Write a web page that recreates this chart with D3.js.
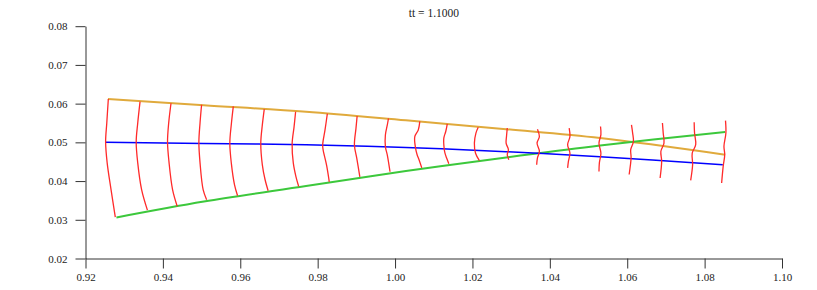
<!DOCTYPE html>
<html lang="en">
<head>
    <meta charset="UTF-8">
    <title>tt = 1.1000</title>
    <script src="https://d3js.org/d3.v7.min.js"></script>
    <style>
        body { margin: 0; background: #fff; }
        svg text { font-family: "Liberation Serif", "Times New Roman", "DejaVu Serif", serif; }
        .tick text { font-size: 11px; fill: #222; }
    </style>
</head>
<body>
    <svg width="817" height="290"></svg>
    <script>
        const title = 'tt = 1.1000';
        const xTicks = [0.92, 0.94, 0.96, 0.98, 1.00, 1.02, 1.04, 1.06, 1.08, 1.10];
        const yTicks = [0.02, 0.03, 0.04, 0.05, 0.06, 0.07, 0.08];

        // upper edge (orange), centre line (blue), lower edge (green)
        const upper = [[0.9258, 0.0612], [0.9506, 0.0596], [0.9770, 0.0579], [1.0028, 0.0557],
                       [1.0287, 0.0534], [1.0530, 0.0511], [1.0853, 0.0468]];
        const centre = [[0.9251, 0.0500], [0.9506, 0.0497], [0.9770, 0.0494], [1.0028, 0.0487],
                        [1.0287, 0.0476], [1.0530, 0.0463], [1.0847, 0.0442]];
        const lower = [[0.9280, 0.0306], [0.9506, 0.0347], [0.9770, 0.0387], [1.0028, 0.0426],
                       [1.0287, 0.0461], [1.0530, 0.0492], [1.0853, 0.0527]];

        // red cross-section profiles, one per station, top to bottom
        const profiles = [
            [[0.9259, 0.0612], [0.9255, 0.0550], [0.9252, 0.0501], [0.9256, 0.0447], [0.9266, 0.0378], [0.9277, 0.0307]],
            [[0.9341, 0.0605], [0.9335, 0.0550], [0.9331, 0.0501], [0.9335, 0.0447], [0.9345, 0.0378], [0.9360, 0.0325]],
            [[0.9421, 0.0601], [0.9415, 0.0550], [0.9412, 0.0501], [0.9416, 0.0447], [0.9425, 0.0378], [0.9437, 0.0335]],
            [[0.9500, 0.0597], [0.9496, 0.0550], [0.9493, 0.0500], [0.9496, 0.0447], [0.9504, 0.0378], [0.9513, 0.0352]],
            [[0.9582, 0.0593], [0.9577, 0.0548], [0.9573, 0.0498], [0.9577, 0.0445], [0.9585, 0.0391], [0.9593, 0.0362]],
            [[0.9662, 0.0586], [0.9657, 0.0545], [0.9653, 0.0498], [0.9657, 0.0442], [0.9664, 0.0404], [0.9672, 0.0375]],
            [[0.9743, 0.0579], [0.9739, 0.0540], [0.9734, 0.0496], [0.9737, 0.0447], [0.9744, 0.0411], [0.9751, 0.0386]],
            [[0.9825, 0.0574], [0.9819, 0.0532], [0.9813, 0.0494], [0.9814, 0.0481], [0.9823, 0.0441], [0.9830, 0.0398]],
            [[0.9902, 0.0568], [0.9899, 0.0536], [0.9895, 0.0493], [0.9901, 0.0459], [0.9909, 0.0411]],
            [[0.9983, 0.0562], [0.9980, 0.0545], [0.9975, 0.0519], [0.9975, 0.0489], [0.9980, 0.0467], [0.9987, 0.0424]],
            [[1.0064, 0.0554], [1.0060, 0.0532], [1.0051, 0.0515], [1.0053, 0.0485], [1.0057, 0.0468], [1.0062, 0.0455], [1.0069, 0.0434]],
            [[1.0135, 0.0548], [1.0131, 0.0528], [1.0126, 0.0511], [1.0127, 0.0483], [1.0129, 0.0472], [1.0133, 0.0460], [1.0139, 0.0445]],
            [[1.0215, 0.0539], [1.0209, 0.0524], [1.0205, 0.0498], [1.0208, 0.0472], [1.0218, 0.0453]],
            [[1.0290, 0.0537], [1.0288, 0.0515], [1.0287, 0.0498], [1.0293, 0.0481], [1.0290, 0.0468], [1.0294, 0.0455]],
            [[1.0368, 0.0534], [1.0373, 0.0515], [1.0367, 0.0498], [1.0373, 0.0477], [1.0368, 0.0460], [1.0366, 0.0442]],
            [[1.0450, 0.0537], [1.0452, 0.0515], [1.0446, 0.0494], [1.0452, 0.0472], [1.0448, 0.0451], [1.0446, 0.0434]],
            [[1.0531, 0.0541], [1.0532, 0.0520], [1.0527, 0.0498], [1.0532, 0.0472], [1.0528, 0.0447], [1.0527, 0.0425]],
            [[1.0611, 0.0545], [1.0614, 0.0524], [1.0616, 0.0502], [1.0609, 0.0481], [1.0610, 0.0460], [1.0605, 0.0417]],
            [[1.0691, 0.0550], [1.0693, 0.0524], [1.0695, 0.0498], [1.0687, 0.0477], [1.0689, 0.0451], [1.0685, 0.0408]],
            [[1.0773, 0.0552], [1.0774, 0.0524], [1.0777, 0.0494], [1.0768, 0.0472], [1.0769, 0.0442], [1.0764, 0.0402]],
            [[1.0854, 0.0556], [1.0855, 0.0524], [1.0850, 0.0490], [1.0852, 0.0468], [1.0848, 0.0438], [1.0844, 0.0395]]
        ];

        const svg = d3.select('svg');

        const x = d3.scaleLinear().domain([0.92, 1.10]).range([85.5, 782]);
        const y = d3.scaleLinear().domain([0.02, 0.08]).range([258.5, 26.2]);

        // minor ticks halfway between the labelled ones
        const xMinor = d3.range(0, xTicks.length - 1).map(i => (xTicks[i] + xTicks[i + 1]) / 2);
        const yMinor = d3.range(0, yTicks.length - 1).map(i => (yTicks[i] + yTicks[i + 1]) / 2);

        const serif = '"Liberation Serif", "Times New Roman", "DejaVu Serif", serif';

        const gx = svg.append('g').attr('transform', `translate(0, ${y.range()[0]})`);
        gx.call(d3.axisBottom(x).tickValues(xMinor).tickSize(6).tickFormat(''));
        gx.call(d3.axisBottom(x).tickValues(xTicks).tickSize(10).tickSizeOuter(0)
            .tickPadding(5).tickFormat(d3.format('.2f')));

        const gy = svg.append('g').attr('transform', `translate(${x.range()[0]}, 0)`);
        gy.call(d3.axisLeft(y).tickValues(yMinor).tickSize(6).tickFormat(''));
        gy.call(d3.axisLeft(y).tickValues(yTicks).tickSize(10).tickSizeOuter(0)
            .tickPadding(8).tickFormat(d3.format('.2f')));

        gx.attr('font-family', serif).attr('font-size', 11);
        gy.attr('font-family', serif).attr('font-size', 11);
        svg.selectAll('.domain, .tick line').attr('stroke', '#333');

        const line = d3.line()
            .x(d => x(d[0]))
            .y(d => y(d[1]))
            .curve(d3.curveCatmullRom);

        const plot = svg.append('g').attr('fill', 'none');

        plot.append('path').datum(upper).attr('d', line)
            .attr('stroke', '#e0aa3c').attr('stroke-width', 2);
        plot.append('path').datum(lower).attr('d', line)
            .attr('stroke', '#3cc83c').attr('stroke-width', 2);
        plot.append('path').datum(centre).attr('d', line)
            .attr('stroke', '#0000ff').attr('stroke-width', 1.5);

        plot.selectAll('path.profile')
            .data(profiles)
            .join('path')
            .attr('class', 'profile')
            .attr('d', line)
            .attr('stroke', '#ff2a2a')
            .attr('stroke-width', 1.3);

        svg.append('text')
            .attr('x', 434)
            .attr('y', 16.5)
            .attr('text-anchor', 'middle')
            .attr('font-family', serif)
            .attr('font-size', 11.5)
            .attr('fill', '#222')
            .text(title);
    </script>
</body>
</html>
